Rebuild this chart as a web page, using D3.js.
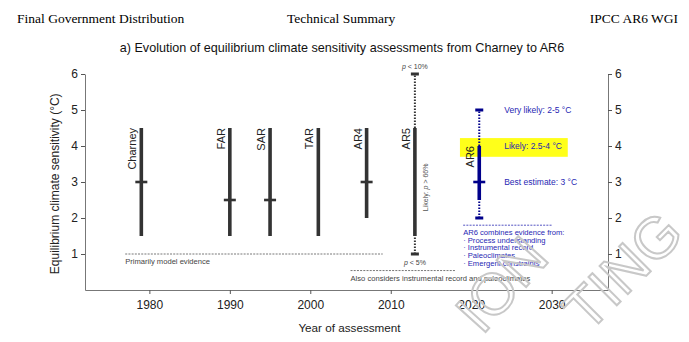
<!DOCTYPE html>
<html>
<head>
<meta charset="utf-8">
<script src="https://cdn.jsdelivr.net/npm/d3@7"></script>
<style>
  body { margin: 0; background: #fff; }
  svg { display: block; }
</style>
</head>
<body>
<div id="chart"></div>
<script>
// Assessment reports before AR6 (likely ranges, best estimates in °C)
var reports = ["Charney", "FAR", "SAR", "TAR", "AR4", "AR5"];
var reportYears = [1979, 1990, 1995, 2001, 2007, 2013];
var likelyLow = [1.5, 1.5, 1.5, 1.5, 2.0, 1.5];
var likelyHigh = [4.5, 4.5, 4.5, 4.5, 4.5, 4.5];
var bestEstimate = [3.0, 2.5, 2.5, null, 3.0, null];

// AR5 tails: p < 5% below, p < 10% above
var ar5Tails = [1.0, 6.0];

// AR6 assessment
var ar6Year = 2021;
var ar6Likely = [2.5, 4.0];
var ar6VeryLikely = [2.0, 5.0];
var ar6Best = 3.0;

var yTicks = [1, 2, 3, 4, 5, 6];
var xTicks = [1980, 1990, 2000, 2010, 2020, 2030];
var ar6Evidence = ["AR6 combines evidence from:", "· Process understanding",
                   "· Instrumental record", "· Paleoclimates", "· Emergent constraints"];

var width = 689, height = 342;
var margin = {left: 85, right: 85, top: 74, bottom: 52};

var svg = d3.select("#chart").append("svg")
    .attr("width", width)
    .attr("height", height);

var sans = "'Liberation Sans', Arial, sans-serif";
var serif = "'Liberation Serif', 'Times New Roman', serif";
var grey = "#333";
var blue = "#00008b";
var blueText = "#2727b3";

// Page header
svg.append("text").attr("x", 17).attr("y", 23)
   .attr("font-family", serif).attr("font-size", "13.5px").attr("fill", "#000")
   .text("Final Government Distribution");
svg.append("text").attr("x", 287).attr("y", 23)
   .attr("font-family", serif).attr("font-size", "13.5px").attr("fill", "#000")
   .text("Technical Summary");
svg.append("text").attr("x", 678).attr("y", 23).attr("text-anchor", "end")
   .attr("font-family", serif).attr("font-size", "13.5px").attr("fill", "#000")
   .text("IPCC AR6 WGI");

// Panel title
svg.append("text").attr("x", 342).attr("y", 52).attr("text-anchor", "middle")
   .attr("font-family", sans).attr("font-size", "12.6px").attr("fill", "#111")
   .text("a) Evolution of equilibrium climate sensitivity assessments from Charney to AR6");

// Scales
var x = d3.scaleLinear().domain([1972, 2037]).range([margin.left, width - margin.right + 4]);
var y = d3.scaleLinear().domain([0, 6]).range([290, 74]);

// Highlighter behind the AR6 likely range
svg.append("rect")
   .attr("x", x(2018.6)).attr("y", y(4.22))
   .attr("width", x(2032) - x(2018.6)).attr("height", y(3.7) - y(4.22))
   .attr("fill", "#ffff1a");

// Axes
function styleAxis(g) {
    g.selectAll(".domain").attr("stroke", "#777");
    g.selectAll(".tick line").attr("stroke", "#555");
    g.selectAll(".tick text").attr("font-family", sans).attr("font-size", "12px").attr("fill", "#222");
}

svg.append("g")
   .attr("transform", "translate(" + x(1972) + ",0)")
   .call(d3.axisLeft(y).tickValues(yTicks).tickSize(4).tickSizeOuter(0).tickPadding(3).tickFormat(d3.format("d")))
   .call(styleAxis);

svg.append("g")
   .attr("transform", "translate(" + x(2037) + ",0)")
   .call(d3.axisRight(y).tickValues(yTicks).tickSize(4).tickSizeOuter(0).tickPadding(3).tickFormat(d3.format("d")))
   .call(styleAxis);

svg.append("g")
   .attr("transform", "translate(0," + y(0) + ")")
   .call(d3.axisBottom(x).tickValues(xTicks).tickSize(4).tickSizeOuter(0).tickPadding(6).tickFormat(d3.format("d")))
   .call(styleAxis);

// Axis titles
svg.append("text")
   .attr("transform", "translate(59," + y(2.95) + ") rotate(-90)")
   .attr("text-anchor", "middle")
   .attr("font-family", sans).attr("font-size", "12px").attr("fill", "#222")
   .text("Equilibrium climate sensitivity (°C)");

svg.append("text")
   .attr("x", (x(1972) + x(2037)) / 2 + 3).attr("y", 332)
   .attr("text-anchor", "middle")
   .attr("font-family", sans).attr("font-size", "11.7px").attr("fill", "#222")
   .text("Year of assessment");

// Evidence groupings (dashed rules with captions)
function evidenceRule(x0, x1, v, color) {
    svg.append("line")
       .attr("x1", x(x0)).attr("x2", x(x1)).attr("y1", y(v)).attr("y2", y(v))
       .attr("stroke", color).attr("stroke-width", 0.8).attr("stroke-dasharray", "2,1.2");
}
evidenceRule(1977, 2009, 1.0, "#555");
svg.append("text").attr("x", x(1977)).attr("y", y(1.0) + 10)
   .attr("font-family", sans).attr("font-size", "7.6px").attr("fill", "#444")
   .text("Primarily model evidence");

evidenceRule(2005, 2018, 0.54, "#555");
svg.append("text").attr("x", x(2005)).attr("y", y(0.54) + 10)
   .attr("font-family", sans).attr("font-size", "7.6px").attr("fill", "#444")
   .text("Also considers instrumental record and paleoclimates");

evidenceRule(2019, 2030, 1.8, blueText);
svg.selectAll("text.evidence")
   .data(ar6Evidence)
   .enter()
   .append("text")
   .attr("class", "evidence")
   .attr("x", x(2019))
   .attr("y", function(d, i) { return y(1.8) + 10 + i * 7.6; })
   .attr("font-family", sans).attr("font-size", "7.6px").attr("fill", blueText)
   .text(function(d) { return d; });

// AR5 tails (dotted) with end caps
svg.append("line")
   .attr("x1", x(2013)).attr("x2", x(2013))
   .attr("y1", y(ar5Tails[0])).attr("y2", y(ar5Tails[1]))
   .attr("stroke", grey).attr("stroke-width", 2).attr("stroke-dasharray", "1.5,1.5");
svg.selectAll("rect.cap5")
   .data(ar5Tails)
   .enter()
   .append("rect")
   .attr("class", "cap5")
   .attr("x", x(2013) - 4).attr("width", 8)
   .attr("y", function(d) { return y(d) - 1.5; }).attr("height", 3)
   .attr("fill", grey);

svg.append("text").attr("x", x(2013)).attr("y", y(ar5Tails[1]) - 5)
   .attr("text-anchor", "middle")
   .attr("font-family", sans).attr("font-size", "7px").attr("fill", "#444")
   .html("<tspan font-style='italic'>p</tspan> &lt; 10%");
svg.append("text").attr("x", x(2013)).attr("y", y(ar5Tails[0]) + 11)
   .attr("text-anchor", "middle")
   .attr("font-family", sans).attr("font-size", "7px").attr("fill", "#444")
   .html("<tspan font-style='italic'>p</tspan> &lt; 5%");
svg.append("text")
   .attr("transform", "translate(" + (x(2013) + 13) + "," + y(2.85) + ") rotate(-90)")
   .attr("text-anchor", "middle")
   .attr("font-family", sans).attr("font-size", "7px").attr("fill", "#555")
   .html("Likely: <tspan font-style='italic'>p</tspan> &gt; 66%");

// Likely ranges of earlier reports
var idx = d3.range(reports.length);
svg.selectAll("line.range")
   .data(idx)
   .enter()
   .append("line")
   .attr("class", "range")
   .attr("x1", function(i) { return x(reportYears[i]); })
   .attr("x2", function(i) { return x(reportYears[i]); })
   .attr("y1", function(i) { return y(likelyLow[i]); })
   .attr("y2", function(i) { return y(likelyHigh[i]); })
   .attr("stroke", grey).attr("stroke-width", 3.6);

svg.selectAll("line.best")
   .data(idx.filter(function(i) { return bestEstimate[i] !== null; }))
   .enter()
   .append("line")
   .attr("class", "best")
   .attr("x1", function(i) { return x(reportYears[i]) - 6; })
   .attr("x2", function(i) { return x(reportYears[i]) + 6; })
   .attr("y1", function(i) { return y(bestEstimate[i]); })
   .attr("y2", function(i) { return y(bestEstimate[i]); })
   .attr("stroke", grey).attr("stroke-width", 2.6);

svg.selectAll("text.report")
   .data(idx)
   .enter()
   .append("text")
   .attr("class", "report")
   .attr("transform", function(i) {
       return "translate(" + (x(reportYears[i]) - 5) + "," + y(likelyHigh[i]) + ") rotate(-90)";
   })
   .attr("text-anchor", "end")
   .attr("font-family", sans).attr("font-size", "11px").attr("fill", "#222")
   .text(function(i) { return reports[i]; });

// AR6: very likely (dotted), likely (solid), best estimate
svg.append("line")
   .attr("x1", x(ar6Year)).attr("x2", x(ar6Year))
   .attr("y1", y(ar6VeryLikely[0])).attr("y2", y(ar6VeryLikely[1]))
   .attr("stroke", blue).attr("stroke-width", 2).attr("stroke-dasharray", "1.5,1.5");
svg.selectAll("rect.cap6")
   .data(ar6VeryLikely)
   .enter()
   .append("rect")
   .attr("class", "cap6")
   .attr("x", x(ar6Year) - 4).attr("width", 8)
   .attr("y", function(d) { return y(d) - 1.5; }).attr("height", 3)
   .attr("fill", blue);
svg.append("line")
   .attr("x1", x(ar6Year)).attr("x2", x(ar6Year))
   .attr("y1", y(ar6Likely[0])).attr("y2", y(ar6Likely[1]))
   .attr("stroke", blue).attr("stroke-width", 3.6);
svg.append("line")
   .attr("x1", x(ar6Year) - 6).attr("x2", x(ar6Year) + 6)
   .attr("y1", y(ar6Best)).attr("y2", y(ar6Best))
   .attr("stroke", blue).attr("stroke-width", 2.6);
svg.append("text")
   .attr("transform", "translate(" + (x(ar6Year) - 5) + "," + y(ar6Likely[1]) + ") rotate(-90)")
   .attr("text-anchor", "end")
   .attr("font-family", sans).attr("font-size", "11px").attr("fill", "#222")
   .text("AR6");

// AR6 range annotations
var ar6Notes = [
    {v: ar6VeryLikely[1], t: "Very likely: " + ar6VeryLikely[0] + "-" + ar6VeryLikely[1] + " °C"},
    {v: ar6Likely[1], t: "Likely: " + ar6Likely[0] + "-" + ar6Likely[1] + " °C"},
    {v: ar6Best, t: "Best estimate: " + ar6Best + " °C"}
];
svg.selectAll("text.note")
   .data(ar6Notes)
   .enter()
   .append("text")
   .attr("class", "note")
   .attr("x", x(2024.1))
   .attr("y", function(d) { return y(d.v) + 3; })
   .attr("font-family", sans).attr("font-size", "8.5px").attr("fill", blueText)
   .text(function(d) { return d.t; });

// Draft watermark fragments
var wm = svg.append("g").attr("fill", "none").attr("stroke", "#c8c8c8").attr("stroke-width", 2)
    .attr("font-family", sans).attr("font-size", "58px");
wm.append("text").attr("transform", "translate(482,336) rotate(-48)").text("ION");
wm.append("text").attr("transform", "translate(588,334) rotate(-45)").text("TING");
</script>
</body>
</html>
